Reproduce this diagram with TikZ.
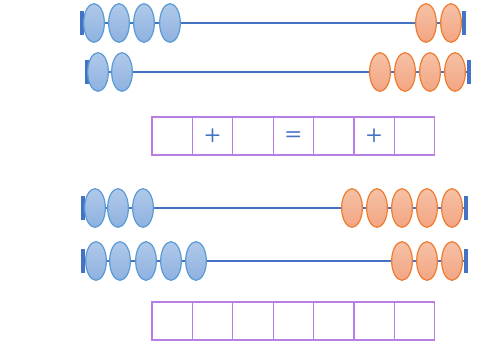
\documentclass[tikz,border=0pt]{standalone}
\usetikzlibrary{shapes.geometric}
\definecolor{rodblue}{HTML}{4472C4}
\definecolor{beadtop}{HTML}{B0C9EA}
\definecolor{beadbot}{HTML}{8EB1E0}
\definecolor{beadrim}{HTML}{5B9BD5}
\definecolor{peachtop}{HTML}{F6C1A6}
\definecolor{peachbot}{HTML}{F3A583}
\definecolor{peachrim}{HTML}{ED7D31}
\definecolor{cellrim}{HTML}{B77FE3}
\tikzset{
  rod/.style={rodblue, line width=1.8pt},
  endbar/.style={rectangle, fill=rodblue, inner sep=0pt, minimum width=3pt, minimum height=18pt},
  bluebead/.style={ellipse, inner sep=0pt, minimum width=15.5pt, minimum height=29pt,
    draw=beadrim, line width=0.9pt, top color=beadtop, bottom color=beadbot},
  peachbead/.style={ellipse, inner sep=0pt, minimum width=15.5pt, minimum height=29pt,
    draw=peachrim, line width=0.9pt, top color=peachtop, bottom color=peachbot},
  cell/.style={rectangle, draw=cellrim, line width=0.8pt, inner sep=0pt,
    minimum width=30.3pt, minimum height=28.5pt, text=rodblue, font=\sffamily\bfseries\Large},
}

\begin{document}
\begin{tikzpicture}[x=0.75pt, y=-0.75pt]
\useasboundingbox (0,0) rectangle (485,352);

% ---------------- abacus rows: y / left bar / right bar ----------------
\foreach \r/\y/\xl/\xr in {1/23/82/464, 2/72/87/469, 3/208/83/466, 4/261/83/466} {
  \node[endbar] (L\r) at (\xl,\y) {};
  \node[endbar] (R\r) at (\xr,\y) {};
  \draw[rod] (L\r) -- (R\r);
}

% blue beads pushed to the left
\foreach \x [count=\k] in {94,119,144,170} \node[bluebead] (b1-\k) at (\x,23) {};
\foreach \x [count=\k] in {98,122} \node[bluebead] (b2-\k) at (\x,72) {};
\foreach \x [count=\k] in {95,118,143} \node[bluebead] (b3-\k) at (\x,208) {};
\foreach \x [count=\k] in {96,120,146,171,196} \node[bluebead] (b4-\k) at (\x,261) {};

% orange beads pushed to the right
\foreach \x [count=\k] in {426,451} \node[peachbead] (p1-\k) at (\x,23) {};
\foreach \x [count=\k] in {380,405,430,455} \node[peachbead] (p2-\k) at (\x,72) {};
\foreach \x [count=\k] in {352,377,402,427,452} \node[peachbead] (p3-\k) at (\x,208) {};
\foreach \x [count=\k] in {402,427,452} \node[peachbead] (p4-\k) at (\x,261) {};

% ---------------- answer boxes ----------------
\foreach \i/\t in {1/{},2/+,3/{},4/=,5/{},6/+,7/{}} {
  \node[cell] (top\i) at ({152+40.4*(\i-0.5)},136) {\t};
  \node[cell] (bot\i) at ({152+40.4*(\i-0.5)},321) {};
}

\end{tikzpicture}
\end{document}
